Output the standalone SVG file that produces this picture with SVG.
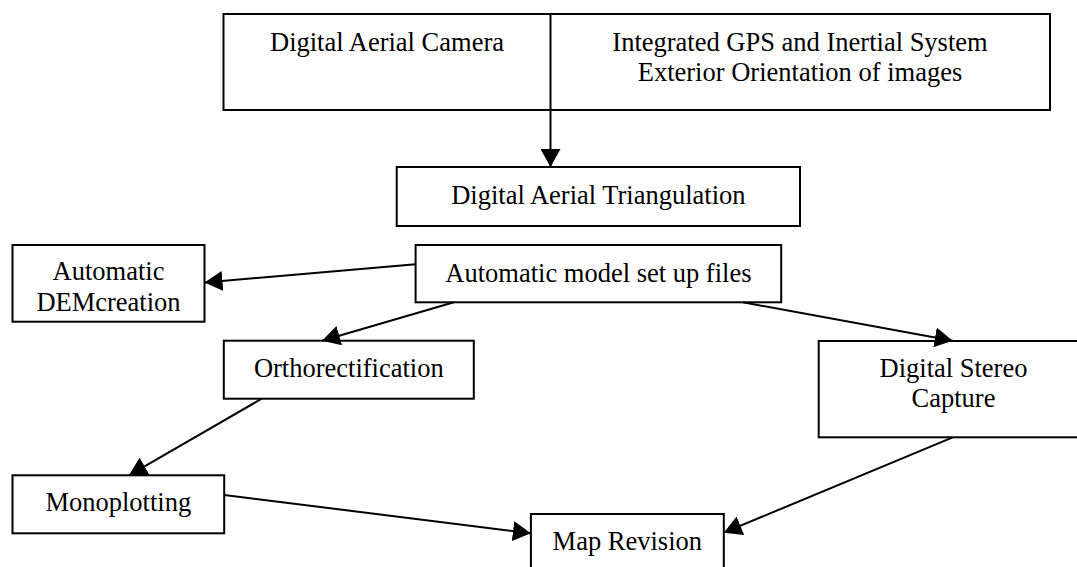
<svg xmlns="http://www.w3.org/2000/svg" width="1077" height="567" viewBox="0 0 1077 567">
<style>
.box{fill:#fff;stroke:#000;stroke-width:2}
.t{font-family:"Liberation Serif","Times New Roman",serif;font-size:26.5px;fill:#000;text-anchor:middle}
.c{stroke:#000;stroke-width:2;fill:none;marker-end:url(#arr)}
</style>
<defs>
<marker id="arr" markerUnits="userSpaceOnUse" markerWidth="20" markerHeight="20" refX="18" refY="10" orient="auto">
<path d="M0,0 L18,10 L0,20 z" fill="#000"/>
</marker>
</defs>
<rect width="1077" height="567" fill="#fff"/>
<g id="top">
<rect class="box" x="223.5" y="14" width="826.5" height="96"/>
<line x1="550.5" y1="14" x2="550.5" y2="110" stroke="#000" stroke-width="2"/>
<text class="t" x="387" y="51">Digital Aerial Camera</text>
<text class="t" x="800" y="51">Integrated GPS and Inertial System</text>
<text class="t" x="800" y="81">Exterior Orientation of images</text>
</g>
<g id="triangulation">
<rect class="box" x="396.7" y="167" width="403.3" height="59"/>
<text class="t" x="598.4" y="204">Digital Aerial Triangulation</text>
</g>
<g id="model">
<rect class="box" x="415.6" y="245" width="365.6" height="57.3"/>
<text class="t" x="598.4" y="282">Automatic model set up files</text>
</g>
<g id="dem">
<rect class="box" x="12.5" y="245" width="192" height="76.7"/>
<text class="t" x="108.5" y="280">Automatic</text>
<text class="t" x="108.5" y="311">DEMcreation</text>
</g>
<g id="ortho">
<rect class="box" x="223.8" y="340.7" width="250" height="58"/>
<text class="t" x="348.8" y="377">Orthorectification</text>
</g>
<g id="stereo">
<rect class="box" x="818.7" y="341" width="270" height="96.3"/>
<text class="t" x="953.5" y="376.7">Digital Stereo</text>
<text class="t" x="953.5" y="406.7">Capture</text>
</g>
<g id="mono">
<rect class="box" x="12.5" y="475.3" width="211.7" height="58"/>
<text class="t" x="118.3" y="511">Monoplotting</text>
</g>
<g id="map">
<rect class="box" x="530.9" y="514" width="192.9" height="60"/>
<text class="t" x="627.3" y="550">Map Revision</text>
</g>
<g id="connectors">
<line class="c" x1="550.5" y1="110" x2="550.5" y2="167"/>
<line class="c" x1="415.6" y1="264.3" x2="204.5" y2="282.5"/>
<line class="c" x1="453.9" y1="302.3" x2="322" y2="340.7"/>
<line class="c" x1="742.9" y1="302.3" x2="952.7" y2="340.7"/>
<line class="c" x1="261.7" y1="398.7" x2="129" y2="475.3"/>
<line class="c" x1="224.2" y1="495" x2="530.9" y2="533.3"/>
<line class="c" x1="952.7" y1="437.3" x2="723.8" y2="532.7"/>
</g>
</svg>
